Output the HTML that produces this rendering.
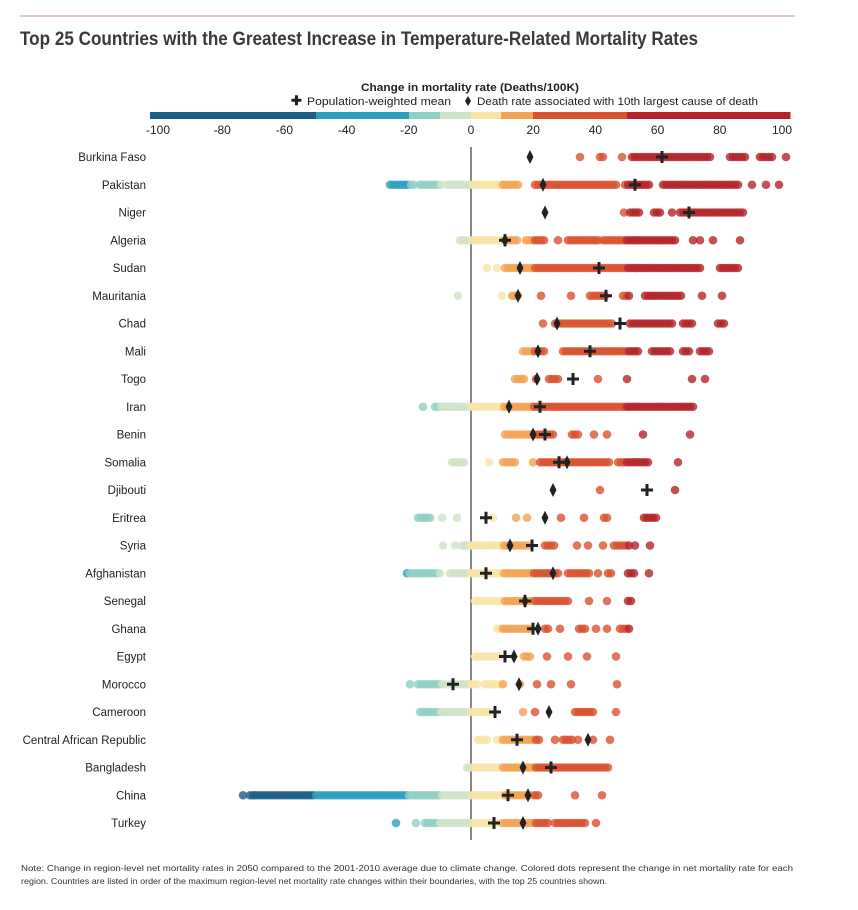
<!DOCTYPE html>
<html><head><meta charset="utf-8"><style>
body{margin:0;background:#fff;}
svg{display:block;font-family:"Liberation Sans",sans-serif;}
</style></head><body>
<svg id="s" width="858" height="910" xmlns="http://www.w3.org/2000/svg">
<line x1="20" y1="16" x2="795" y2="16" stroke="#c9928a" stroke-width="1"/>
<text x="20" y="45" font-size="19" font-weight="bold" fill="#3a3a3a" textLength="678" lengthAdjust="spacingAndGlyphs">Top 25 Countries with the Greatest Increase in Temperature-Related Mortality Rates</text>
<text x="470" y="91" font-size="11" font-weight="bold" fill="#222" text-anchor="middle" textLength="218" lengthAdjust="spacingAndGlyphs">Change in mortality rate (Deaths/100K)</text>
<text x="291" y="105" font-size="13" font-weight="bold" fill="#222">✚</text>
<text x="307" y="105" font-size="11" fill="#222" textLength="144" lengthAdjust="spacingAndGlyphs">Population-weighted mean</text>
<path d="M468,96 L471,101 L468,106 L465,101Z" fill="#222"/>
<text x="477" y="105" font-size="11" fill="#222" textLength="281" lengthAdjust="spacingAndGlyphs">Death rate associated with 10th largest cause of death</text>
<g id="bar"></g>
<g id="ticks" font-size="12" fill="#222" text-anchor="middle"></g>
<line x1="471" y1="147" x2="471" y2="840" stroke="#111" stroke-width="1"/>
<g id="labels" font-size="11.5" fill="#222" text-anchor="end"></g>
<g id="dots"></g>
<g id="marks"></g>
<text x="21" y="871" font-size="8.6" fill="#333" textLength="772" lengthAdjust="spacingAndGlyphs">Note: Change in region-level net mortality rates in 2050 compared to the 2001-2010 average due to climate change. Colored dots represent the change in net mortality rate for each</text>
<text x="21" y="884" font-size="8.6" fill="#333" textLength="586" lengthAdjust="spacingAndGlyphs">region. Countries are listed in order of the maximum region-level net mortality rate changes within their boundaries, with the top 25 countries shown.</text>
</svg>
<script>
var NS="http://www.w3.org/2000/svg",s=document.getElementById('s');
function el(p,t,a,txt){var e=document.createElementNS(NS,t);for(var k in a)e.setAttribute(k,a[k]);if(txt)e.textContent=txt;document.getElementById(p).appendChild(e);return e;}
var Z=471,K=3.11;
function col(x){var v=(x-Z)/K;if(v<-50)return"#1b5f85";if(v<-20)return"#2ea0bd";if(v<-10)return"#8fd0c4";if(v<0)return"#cfe3c8";if(v<10)return"#f8e5a8";if(v<20)return"#f2a452";if(v<50)return"#d9532f";return"#b3252b";}
var segs=[[150,316,"#1b5f85"],[316,409,"#2ea0bd"],[409,440,"#8fd0c4"],[440,471,"#cfe3c8"],[471,501,"#f8e5a8"],[501,533,"#f2a452"],[533,627,"#d9532f"],[627,790,"#b3252b"]];
segs.forEach(function(g){el('bar','rect',{x:g[0],y:112,width:g[1]-g[0]+0.5,height:7,fill:g[2]});});
for(var v=-100;v<=100;v+=20){el('ticks','text',{x:Z+v*K-(v==-100?2:0),y:134},String(v));}
var rows=[
["Burkina Faso",[[580],[600,603],[622],[632,710],[730,745],[760,772],[786]],662,530],
["Pakistan",[[390,415],[420,443],[447,468],[470,520],[535,618],[625,650],[663,740],[752],[766],[779]],635,543],
["Niger",[[624],[630,640],[654,662],[672],[680,745]],689,545],
["Algeria",[[460,518],[526,545],[558],[568,600],[603,675],[693],[700],[713],[740]],505,505],
["Sudan",[[487],[497],[505,700],[720,740]],599,520],
["Mauritania",[[458],[502],[512,520],[541],[571],[590,605],[623,630],[645,683],[702],[722]],606,518],
["Chad",[[543],[555,613],[630,672],[683,692],[718,724]],620,557],
["Mali",[[523,545],[563,640],[652,670],[683,690],[700,711]],590,538],
["Togo",[[515,525],[536],[549,560],[598],[627],[692],[705]],573,537],
["Iran",[[423],[435,695]],540,509],
["Benin",[[505,555],[572,578],[594],[607],[643],[690]],545,533],
["Somalia",[[452,464],[489],[503,515],[533],[540,610],[618,648],[678]],559,567],
["Djibouti",[[600],[675]],647,553],
["Eritrea",[[418,430],[442],[457],[493],[516],[527],[561],[584],[604,608],[644,656]],486,545],
["Syria",[[443],[455],[462,530],[545,555],[577],[588],[603],[614,630],[635],[650]],532,510],
["Afghanistan",[[407,442],[450,560],[568,590],[598],[608,613],[628,635],[649]],486,553],
["Senegal",[[475,570],[589],[607],[628,632]],525,525],
["Ghana",[[497,530],[545,550],[560],[579,587],[596],[607,609],[620,630]],533,538],
["Egypt",[[475,500],[524,532],[547],[568],[587],[616]],505,514],
["Morocco",[[410],[418,445],[450,478],[485,505],[520],[537],[551],[571],[617]],453,519],
["Cameroon",[[420,490],[523],[535],[575,595],[616]],495,549],
["Central African Republic",[[478,488],[497,540],[555],[563,572],[578],[593],[610]],517,588],
["Bangladesh",[[467,610]],551,523],
["China",[[243],[250,540],[575],[602]],508,528],
["Turkey",[[396],[416],[425,548],[555,585],[596]],494,523]];
rows.forEach(function(r,i){var y=157+i*27.75;
el('labels','text',{x:146,y:y+4},r[0]);
r[1].forEach(function(g){var a=g[0],b=g.length>1?g[1]:g[0];for(var x=a;x<=b;x+=3){el('dots','circle',{cx:x,cy:y,r:4.3,fill:col(x),'fill-opacity':0.8});}});
var p=r[2];el('marks','path',{d:"M"+(p-1.5)+","+(y-6)+"h3v4.5h4.5v3h-4.5v4.5h-3v-4.5h-4.5v-3h4.5z",fill:"#222"});
var d=r[3];el('marks','path',{d:"M"+d+","+(y-7)+"L"+(d+3.5)+","+y+"L"+d+","+(y+7)+"L"+(d-3.5)+","+y+"Z",fill:"#222"});
});
</script>
</body></html>
